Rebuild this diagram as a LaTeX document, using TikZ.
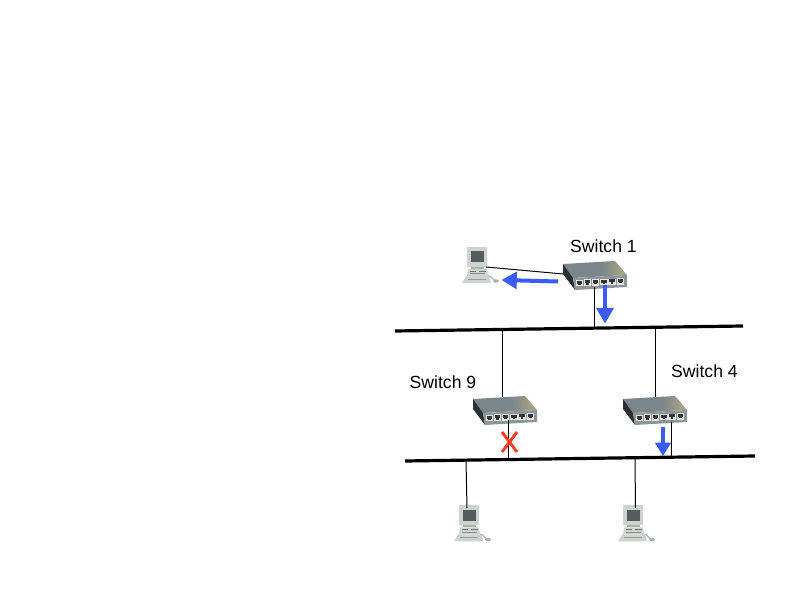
\documentclass[tikz,border=0pt]{standalone}
\usepackage{fontspec}
\setmainfont{Liberation Sans}
\usetikzlibrary{arrows.meta}
\definecolor{swTopL}{RGB}{122,134,140}
\definecolor{swTopR}{RGB}{190,176,125}
\definecolor{swFront}{RGB}{140,150,152}
\definecolor{swSide}{RGB}{42,48,52}
\definecolor{flowBlue}{RGB}{58,90,250}
\definecolor{stopRed}{RGB}{250,60,35}
\definecolor{pcLight}{RGB}{205,212,208}
\definecolor{pcMid}{RGB}{170,178,175}
\definecolor{pcScreen}{RGB}{85,92,95}
\pgfdeclarehorizontalshading{swtopshade}{100bp}{color(0bp)=(swTopL); color(55bp)=(swTopL); color(80bp)=(swTopR); color(100bp)=(swTopR)}
\tikzset{
  link/.style={draw=black,line width=.75pt},
  bus/.style={draw=black,line width=2.4pt},
  flow/.style={draw=flowBlue,line width=3pt,-{Triangle[length=11.5pt,width=12.5pt]}},
  flowsmall/.style={draw=flowBlue,line width=2.7pt,-{Triangle[length=10pt,width=11.5pt]}},
  cross/.style={draw=stopRed,line width=2.2pt},
  lbl/.style={font=\fontsize{13.2}{15}\selectfont,text=black,inner sep=0pt},
  switchbox/.pic={
    \shade[shading=swtopshade] (0,0)--(52,-3)--(64,11)--(10,14)--cycle;
    \fill[swSide] (0,0)--(10,14)--(12,26)--(0,10)--cycle;
    \fill[swFront] (10,14)--(64,11)--(64,23)--(12,26)--cycle;
    \foreach \i in {0,...,5}{
      \fill[white!80!gray] ({13+8.1*\i},{15.8-.3*\i}) rectangle ++(7.2,6.4);
      \fill[black!80] ({14+8.1*\i},{16.6-.3*\i}) rectangle ++(5.2,3);
      \fill[black!80] ({15.2+8.1*\i},{19.4-.3*\i}) rectangle ++(2.8,1.5);
    }
  },
  pcbox/.pic={
    \fill[pcLight] (0,0) rectangle (20,20);
    \fill[pcScreen] (3.5,4.5) rectangle (17,15.5);
    \fill[pcMid] (4,20)--(17,20)--(17,22)--(4,22)--cycle;
    \fill[pcLight] (1,22)--(20,22)--(21,29)--(0,29)--cycle;
    \draw[black!55,line width=.5pt] (3,24)--(9,24) (12,24)--(19,24);
    \fill[black!45] (3,26.5) rectangle (18,27.5);
    \fill[pcLight] (-1,29)--(22,29)--(24,36)--(-5,36)--cycle;
    \draw[black!40,line width=.5pt] (1,32)--(19,32);
    \draw[pcMid,line width=.8pt] (21,29) .. controls (24,28) and (25,32) .. (27,33);
    \fill[pcMid] (29,34) ellipse (3 and 1.8);
  }
}
\begin{document}
\begin{tikzpicture}[x=.75pt,y=-.75pt]
\useasboundingbox (0,0) rectangle (794,595);
% buses
\coordinate (busAw) at (395,331);
\coordinate (busAe) at (743,326);
\coordinate (busBw) at (405,461);
\coordinate (busBe) at (755,456);
% taps on the buses
\coordinate (tapS1) at (594.5,328);
\coordinate (tapS9) at (502.5,330);
\coordinate (tapS4) at (655,329);
\coordinate (tapS9b) at (508,460);
\coordinate (tapS4b) at (671,457);
\coordinate (tapP1) at (466,460);
\coordinate (tapP2) at (635,459);
% attachment points
\coordinate (s1bot) at (594.5,287);
\coordinate (s1left) at (563,274);
\coordinate (s9top) at (502.5,397);
\coordinate (s9bot) at (508,420);
\coordinate (s4top) at (655,397);
\coordinate (s4bot) at (671,422);
\coordinate (pc0conn) at (486,267);
\coordinate (pc1conn) at (467,508);
\coordinate (pc2conn) at (635.5,508);
% arrows / cross ends
\coordinate (a1s) at (558,281.5);
\coordinate (a1e) at (501.5,280);
\coordinate (a2s) at (605,285);
\coordinate (a2e) at (605,323.5);
\coordinate (a3s) at (663,427);
\coordinate (a3e) at (663,456);
\coordinate (x1) at (502,432);
\coordinate (x2) at (517,452);
\coordinate (x3) at (517,432);
\coordinate (x4) at (502,452);
% devices
\pic at (467,247) {pcbox};
\pic at (459,505.5) {pcbox};
\pic at (623,505.5) {pcbox};
\pic at (563,264) {switchbox};
\pic at (473,399) {switchbox};
\pic at (623,399) {switchbox};
% connectors
\draw[link] (pc0conn) -- (s1left);
\draw[link] (s1bot) -- (tapS1);
\draw[link] (tapS9) -- (s9top);
\draw[link] (tapS4) -- (s4top);
\draw[link] (s9bot) -- (tapS9b);
\draw[link] (s4bot) -- (tapS4b);
\draw[link] (tapP1) -- (pc1conn);
\draw[link] (tapP2) -- (pc2conn);
\draw[bus] (busAw) -- (busAe);
\draw[bus] (busBw) -- (busBe);
% flows
\draw[flow] (a1s) -- (a1e);
\draw[flow] (a2s) -- (a2e);
\draw[flowsmall] (a3s) -- (a3e);
\draw[cross] (x1) -- (x2);
\draw[cross] (x3) -- (x4);
% labels
\node[lbl] (l1) at (603.5,246) {Switch 1};
\node[lbl] (l9) at (443,382.5) {Switch 9};
\node[lbl] (l4) at (704.5,371) {Switch 4};
\end{tikzpicture}
\end{document}
